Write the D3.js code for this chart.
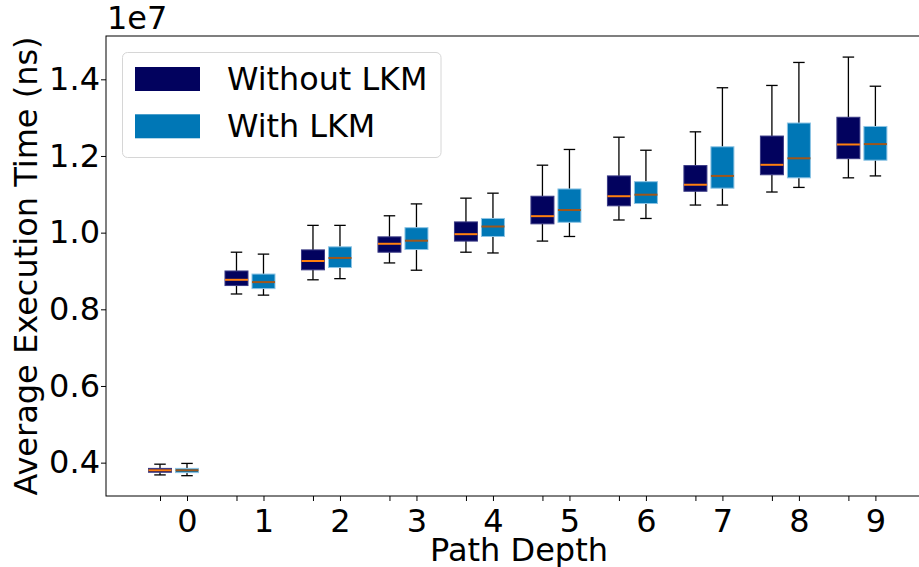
<!DOCTYPE html>
<html>
<head>
<meta charset="utf-8">
<script src="https://cdn.jsdelivr.net/npm/d3@7"></script>
<style>
  body { margin: 0; background: #fff; }
  svg { display: block; font-family: "DejaVu Sans", sans-serif; }
</style>
</head>
<body>
<script>
// path depths on the x axis
const depths = [0, 1, 2, 3, 4, 5, 6, 7, 8, 9];

// box stats per depth, in units of 1e7 ns: [whiskerLow, q1, median, q3, whiskerHigh]
const withoutLKM = [
  [0.368, 0.375, 0.380, 0.385, 0.396],
  [0.840, 0.862, 0.877, 0.900, 0.949],
  [0.877, 0.903, 0.926, 0.955, 1.019],
  [0.921, 0.949, 0.971, 0.989, 1.044],
  [0.949, 0.978, 0.996, 1.028, 1.090],
  [0.978, 1.023, 1.043, 1.095, 1.176],
  [1.033, 1.070, 1.095, 1.148, 1.249],
  [1.072, 1.108, 1.125, 1.175, 1.263],
  [1.106, 1.151, 1.177, 1.252, 1.384],
  [1.143, 1.193, 1.230, 1.301, 1.458]
];

const withLKM = [
  [0.366, 0.374, 0.380, 0.385, 0.398],
  [0.837, 0.854, 0.871, 0.892, 0.944],
  [0.880, 0.909, 0.934, 0.963, 1.019],
  [0.902, 0.956, 0.979, 1.013, 1.075],
  [0.947, 0.990, 1.016, 1.037, 1.103],
  [0.990, 1.027, 1.059, 1.114, 1.217],
  [1.037, 1.076, 1.099, 1.133, 1.215],
  [1.072, 1.116, 1.148, 1.224, 1.378],
  [1.118, 1.143, 1.194, 1.286, 1.444],
  [1.148, 1.189, 1.231, 1.277, 1.382]
];

const yTicks = [0.4, 0.6, 0.8, 1.0, 1.2, 1.4];

const W = 919, H = 567;
const margin = { top: 36, left: 106, bottom: 496, right: 932 };
const offset = 0.353;   // "without" box sits left of the labelled "with" box
const boxW = 23;
const fontSize = 32;

const svg = d3.select("body").append("svg")
  .attr("width", W)
  .attr("height", H);

const x = d3.scaleLinear()
  .domain([-1.059, 9.74])
  .range([margin.left, margin.right]);

const y = d3.scaleLinear()
  .domain([0.313, 1.513])
  .range([margin.bottom, margin.top]);

// axes
const xAxis = svg.append("g")
  .attr("transform", `translate(0,${margin.bottom})`)
  .call(d3.axisBottom(x).tickValues(depths).tickFormat(d3.format("d")).tickSize(5).tickPadding(8));

// small unlabelled ticks under the "without" boxes
svg.append("g")
  .attr("transform", `translate(0,${margin.bottom})`)
  .call(d3.axisBottom(x).tickValues(depths.map(d => d - offset)).tickFormat("").tickSize(5))
  .select(".domain").remove();

const yAxis = svg.append("g")
  .attr("transform", `translate(${margin.left},0)`)
  .call(d3.axisLeft(y).tickValues(yTicks).tickFormat(d3.format(".1f")).tickSize(5).tickPadding(1));

svg.selectAll(".tick text")
  .attr("font-family", "DejaVu Sans")
  .attr("font-size", fontSize)
  .attr("fill", "#000");
svg.selectAll(".tick line").attr("stroke", "#000").attr("stroke-width", 1);

// frame
svg.append("rect")
  .attr("x", margin.left)
  .attr("y", margin.top)
  .attr("width", margin.right - margin.left)
  .attr("height", margin.bottom - margin.top)
  .attr("fill", "none")
  .attr("stroke", "#000")
  .attr("stroke-width", 1);
xAxis.select(".domain").remove();
yAxis.select(".domain").remove();

// boxes
function drawBoxes(stats, shift, fill, edge, medColor) {
  const g = svg.append("g");
  const groups = g.selectAll("g")
    .data(stats)
    .enter().append("g")
    .attr("transform", (d, i) => `translate(${x(depths[i] + shift)},0)`);

  // whiskers
  groups.append("line")
    .attr("y1", d => y(d[0])).attr("y2", d => y(d[1]))
    .attr("stroke", "#000").attr("stroke-width", 1.3);
  groups.append("line")
    .attr("y1", d => y(d[3])).attr("y2", d => y(d[4]))
    .attr("stroke", "#000").attr("stroke-width", 1.3);
  // caps
  groups.append("line")
    .attr("x1", -boxW / 4).attr("x2", boxW / 4)
    .attr("y1", d => y(d[0])).attr("y2", d => y(d[0]))
    .attr("stroke", "#000").attr("stroke-width", 1.3);
  groups.append("line")
    .attr("x1", -boxW / 4).attr("x2", boxW / 4)
    .attr("y1", d => y(d[4])).attr("y2", d => y(d[4]))
    .attr("stroke", "#000").attr("stroke-width", 1.3);
  // box
  groups.append("rect")
    .attr("x", -boxW / 2)
    .attr("width", boxW)
    .attr("y", d => y(d[3]))
    .attr("height", d => y(d[1]) - y(d[3]))
    .attr("fill", fill)
    .attr("stroke", edge)
    .attr("stroke-width", 1);
  // median
  groups.append("line")
    .attr("x1", -boxW / 2).attr("x2", boxW / 2)
    .attr("y1", d => y(d[2])).attr("y2", d => y(d[2]))
    .attr("stroke", medColor).attr("stroke-width", 2);
}

drawBoxes(withoutLKM, -offset, "#02025e", "#3a3a85", "#ff7f0e");
drawBoxes(withLKM, 0, "#0077b6", "#8cc4e4", "#a0561a");

// labels
svg.append("text")
  .attr("x", (margin.left + margin.right) / 2)
  .attr("y", 561)
  .attr("text-anchor", "middle")
  .attr("font-size", fontSize)
  .text("Path Depth");

svg.append("text")
  .attr("transform", `translate(37,${(margin.top + margin.bottom) / 2}) rotate(-90)`)
  .attr("text-anchor", "middle")
  .attr("font-size", fontSize)
  .text("Average Execution Time (ns)");

svg.append("text")
  .attr("x", 107)
  .attr("y", 29)
  .attr("font-size", fontSize)
  .text("1e7");

// legend
const legend = svg.append("g");
legend.append("rect")
  .attr("x", 122.5).attr("y", 52.5)
  .attr("width", 318.5).attr("height", 105)
  .attr("rx", 5)
  .attr("fill", "#fff").attr("fill-opacity", 0.8)
  .attr("stroke", "#d6d6d6").attr("stroke-width", 1);

const legendItems = legend.selectAll("g.item")
  .data([["Without LKM", "#02025e"], ["With LKM", "#0077b6"]])
  .enter().append("g")
  .attr("class", "item")
  .attr("transform", (d, i) => `translate(0,${i * 47.3})`);

legendItems.append("rect")
  .attr("x", 135).attr("y", 67)
  .attr("width", 65).attr("height", 24)
  .attr("fill", d => d[1]);

legendItems.append("text")
  .attr("x", 227).attr("y", 90)
  .attr("font-size", 31.8)
  .text(d => d[0]);
</script>
</body>
</html>
